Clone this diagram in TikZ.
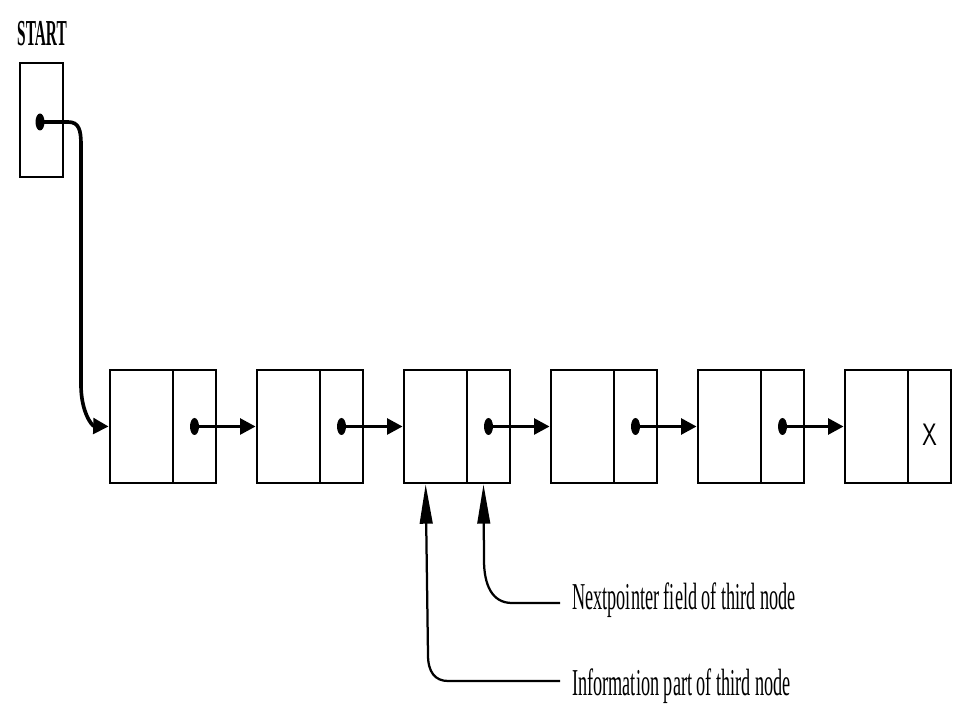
\documentclass[tikz,border=0pt]{standalone}
\usepackage{fontspec}
\setmainfont{Liberation Serif}
\usetikzlibrary{arrows.meta,calc,shapes.geometric}
\def\pu{0.025cm}
\tikzset{
  cell/.style={draw, line width=1.9pt, inner sep=0pt, minimum height={113*\pu}},
  infocell/.style={cell, minimum width={63*\pu}},
  ptrcell/.style={cell, minimum width={43*\pu}},
  dot/.style={ellipse, fill=black, inner sep=0pt, minimum width={9*\pu}, minimum height={17*\pu}},
  link/.style={line width=2.6pt, -{Triangle[length=11pt,width=11pt]}},
  callout/.style={line width=1.6pt, -{Triangle[length=28pt,width=9pt]}},
  lbl/.style={anchor=west, inner sep=0pt, font=\fontsize{27}{30}\selectfont},
}
\begin{document}
\begin{tikzpicture}[x=0.025cm,y=-0.025cm]
\useasboundingbox (0,0) rectangle (960,720);
% START
\node[inner sep=0pt, font=\fontsize{26}{28}\selectfont\bfseries] (start) at (42,34) {\scalebox{0.42}[1]{START}};
\node[draw, line width=1.9pt, inner sep=0pt, minimum width={43*\pu}, minimum height={114*\pu}] (s0) at (41.5,120) {};
\node[dot] (d0) at (40,122) {};
% list nodes
\foreach \i in {1,...,6}{
  \pgfmathsetmacro\L{110+147*(\i-1)}
  \node[infocell] (n\i i) at (\L+31.5,426.5) {};
  \node[ptrcell] (n\i p) at (\L+63+21.5,426.5) {};
}
\foreach \i in {1,...,5}{
  \node[dot] (d\i) at (n\i p.center) {};
}
\node[inner sep=0pt, font=\fontsize{22}{24}\sffamily] (x6) at ($(n6p.center)+(0,8)$) {\scalebox{0.75}[1]{X}};
% START pointer
\draw[link] (d0.center) -- (68,122) .. controls (79,122) and (81,130) .. (81,145) -- (81,385)
   .. controls (81,412) and (92,426) .. (n1i.west);
% links
\foreach \i [evaluate=\i as \j using int(\i+1)] in {1,...,5}{
  \draw[link] (d\i.center) -- (n\j i.west);
}
% labels
\node[lbl] (lnext) at (572,600) {\scalebox{0.48}[1]{Nextpointer field of third node}};
\node[lbl] (linfo) at (572,686) {\scalebox{0.48}[1]{Information part of third node}};
\coordinate (cnext) at (560,603);
\coordinate (cinfo) at (560,681);
\draw[callout] (cnext) -- (512,603) .. controls (492,603) and (484,585) .. (484,560) -- ($(n3p.south)+(-5,0)$);
\draw[callout] (cinfo) -- (448,681) .. controls (435,681) and (428,672) .. (428,655) -- ($(n3i.south west)+(23,0)$);
\end{tikzpicture}
\end{document}
